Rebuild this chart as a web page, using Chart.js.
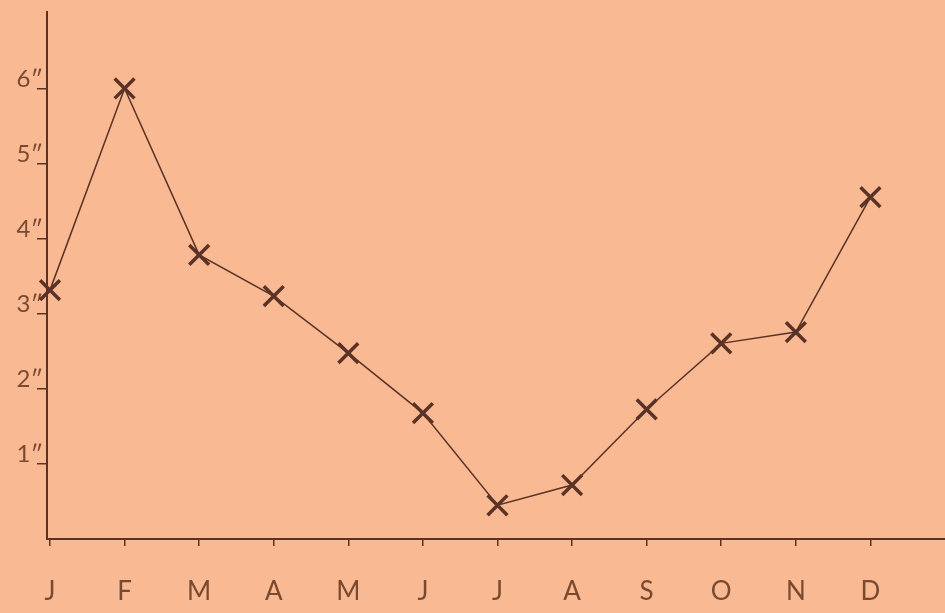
<!DOCTYPE html>
<html>
<head>
<meta charset="utf-8">
<script src="https://cdn.jsdelivr.net/npm/chart.js@4"></script>
<style>
html,body{margin:0;padding:0;background:#F9B992;}
#wrap{width:945px;height:613px;position:relative;}
</style>
</head>
<body>
<div id="wrap"><canvas id="c" width="945" height="613"></canvas></div>
<script>
const months = ["J","F","M","A","M","J","J","A","S","O","N","D"];
const rainfall = [3.32, 6.01, 3.79, 3.24, 2.48, 1.68, 0.45, 0.72, 1.73, 2.61, 2.76, 4.56];
const yTickValues = [1, 2, 3, 4, 5, 6];
const yTickLabels = ["1\u2033", "2\u2033", "3\u2033", "4\u2033", "5\u2033", "6\u2033"];

const ink = "#5a3226";
const textCol = "#7a4a30";

new Chart(document.getElementById("c"), {
  type: "line",
  data: {
    datasets: [{
      data: rainfall.map((v, i) => ({x: i, y: v})),
      borderColor: ink,
      borderWidth: 1.5,
      pointStyle: "crossRot",
      pointRadius: 14,
      pointBorderWidth: 3.5,
      pointBorderColor: ink,
      pointBackgroundColor: ink,
      tension: 0,
      fill: false,
      clip: false
    }]
  },
  options: {
    responsive: false,
    animation: false,
    layout: {autoPadding: false, padding: {top: 12, right: 0, left: 0, bottom: 0}},
    plugins: {legend: {display: false}, tooltip: {enabled: false}},
    scales: {
      x: {
        type: "linear",
        min: -0.04, max: 12,
        afterBuildTicks: s => { s.ticks = months.map((m, i) => ({value: i})); },
        afterFit: s => { s.height = 74; },
        border: {display: true, color: ink, width: 2},
        grid: {drawOnChartArea: false, drawTicks: true, tickLength: 7, color: ink, lineWidth: 1.5},
        ticks: {
          callback: (v) => months[v] ?? "",
          color: textCol,
          font: {family: "Lato", size: 26},
          padding: 30,
          maxRotation: 0,
          autoSkip: false
        }
      },
      y: {
        type: "linear",
        min: 0, max: 7.03,
        afterBuildTicks: s => { s.ticks = yTickValues.map(v => ({value: v})); },
        afterFit: s => { s.width = 47; },
        border: {display: true, color: ink, width: 2},
        grid: {drawOnChartArea: false, drawTicks: true, tickLength: 10, color: ink, lineWidth: 1.5},
        ticks: {
          callback: (v) => { const k = yTickValues.indexOf(v); return k >= 0 ? yTickLabels[k] : ""; },
          color: textCol,
          font: {family: "Lato", size: 24},
          padding: -6,
          labelOffset: -10,
          autoSkip: false
        }
      }
    }
  }
});
</script>
</body>
</html>
